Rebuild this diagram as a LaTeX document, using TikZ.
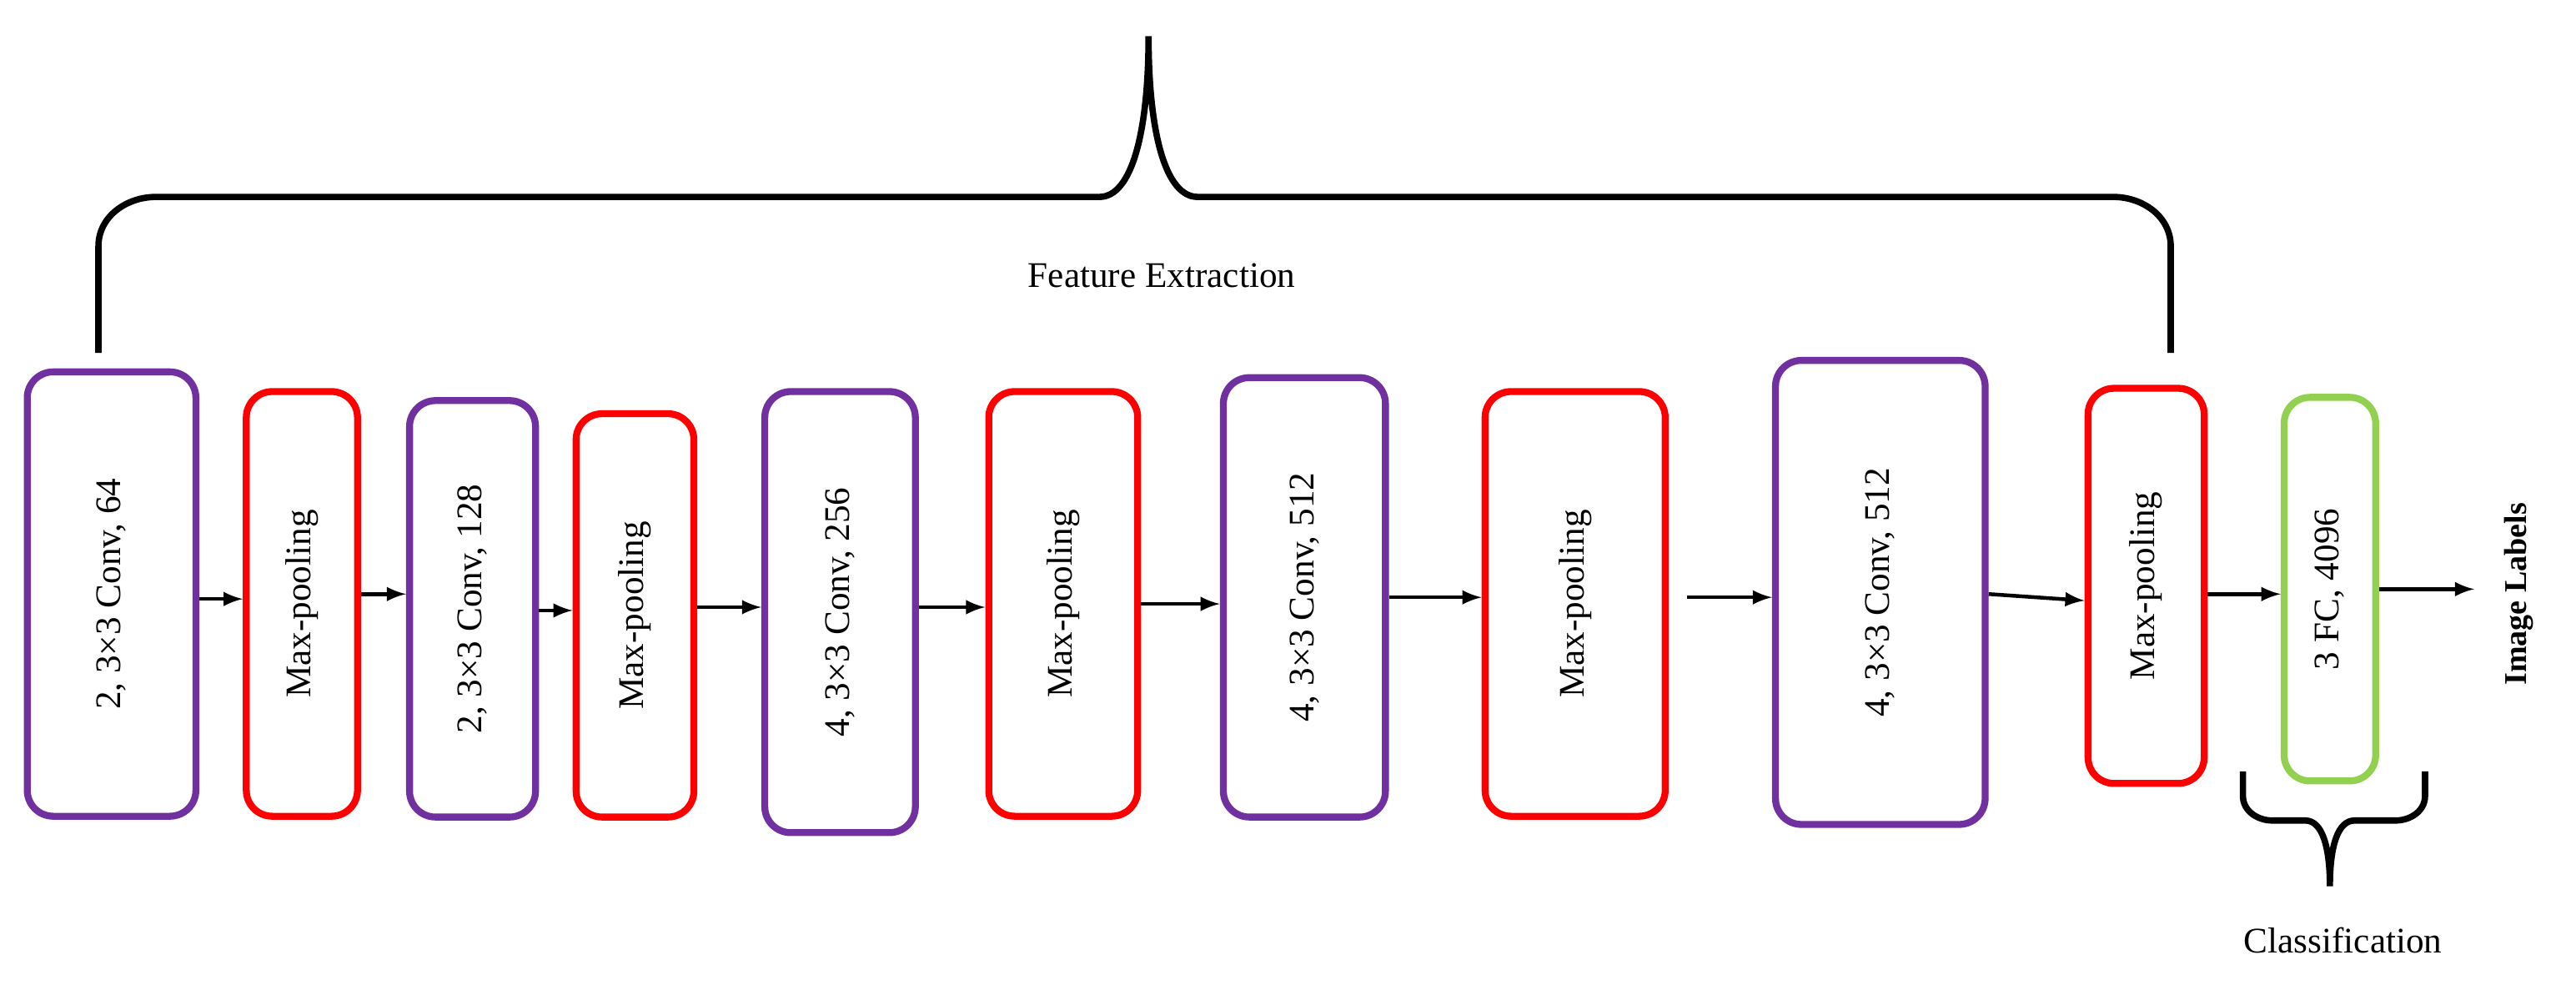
\documentclass[tikz,border=0pt]{standalone}
\usepackage{fontspec}
\setmainfont{Liberation Serif}
\begin{document}
\begin{tikzpicture}[x=0.02cm,y=-0.02cm,
 blk/.style={draw,line width=2.4pt,rounded corners=9pt,fill=white,inner sep=0pt},
 lb/.style={rotate=90,font=\fontsize{12.5}{14}\selectfont},
 ar/.style={-latex,line width=1.3pt},
 br/.style={line width=2.2pt}]
\useasboundingbox (0,0) rectangle (1570,600);
\definecolor{pur}{RGB}{112,48,160}
\definecolor{grn}{RGB}{146,208,80}
\tikzset{cv/.style={blk,draw=pur},mp/.style={blk,draw=red},fc/.style={blk,draw=grn}}
\newcommand\bx[6]{\node[#2,minimum width=#5*0.02cm-2.4pt,minimum height=#6*0.02cm-2.4pt] (#1) at (#3,#4) {};}
\bx{b1}{cv}{68}{362}{107}{275}
\bx{b2}{mp}{184}{368}{72}{263}
\bx{b3}{cv}{288}{371}{81}{258}
\bx{b4}{mp}{387}{375}{76}{250}
\bx{b5}{cv}{512}{373}{96}{273}
\bx{b6}{mp}{648}{368}{95}{263}
\bx{b7}{cv}{795}{364}{103}{272}
\bx{b8}{mp}{960}{368}{114}{263}
\bx{b9}{cv}{1146}{361}{132}{287}
\bx{b10}{mp}{1308}{357}{75}{245}
\bx{b11}{fc}{1420}{359}{60}{238}
\node[lb] at (b1) {2, 3×3 Conv, 64};
\node[lb] at (b2) {Max-pooling};
\node[lb] at (b3) {2, 3×3 Conv, 128};
\node[lb] at (b4) {Max-pooling};
\node[lb] at (b5) {4, 3×3 Conv, 256};
\node[lb] at (b6) {Max-pooling};
\node[lb] at (b7) {4, 3×3 Conv, 512};
\node[lb] at (b8) {Max-pooling};
\node[lb] at (b9) {4, 3×3 Conv, 512};
\node[lb] at (b10) {Max-pooling};
\node[lb] at (b11) {3 FC, 4096};
\node[lb,font=\fontsize{11}{13}\selectfont\bfseries] (il) at (1535,362) {Image Labels};
\coordinate (e) at (1508,359);
\draw[ar] (b1.east|-0,365) -- (b2.west|-0,365);
\draw[ar] (b2.east|-0,362) -- (b3.west|-0,362);
\draw[ar] (b3.east|-0,372) -- (b4.west|-0,372);
\draw[ar] (b4.east|-0,370) -- (b5.west|-0,370);
\draw[ar] (b5.east|-0,370) -- (b6.west|-0,370);
\draw[ar] (b6.east|-0,368) -- (b7.west|-0,368);
\draw[ar] (b7.east|-0,364) -- (b8.west|-0,364);
\draw[ar] (1028,364) -- (b9.west|-0,364);
\draw[ar] (b9.east|-0,362) -- (b10.west|-0,366);
\draw[ar] (b10.east|-0,362) -- (b11.west|-0,362);
\draw[ar] (b11.east|-0,359) -- (e);
\draw[br] (60,215) -- (60,150) to[out=90,in=180] (95,120) -- (670,120)
  .. controls (690,120) and (700,80) .. (700,22)
  .. controls (700,80) and (710,120) .. (730,120) -- (1288,120)
  to[out=0,in=90] (1323,150) -- (1323,215);
\node[font=\fontsize{12.5}{14}\selectfont] at (708,168) {Feature Extraction};
\draw[br] (1367,470) -- (1367,485) to[out=-90,in=180] (1385,500) -- (1405,500)
  .. controls (1415,500) and (1420,515) .. (1420,540)
  .. controls (1420,515) and (1425,500) .. (1435,500) -- (1460,500)
  to[out=0,in=-90] (1478,485) -- (1478,470);
\node[font=\fontsize{12.5}{14}\selectfont] at (1428,573) {Classification};
\end{tikzpicture}
\end{document}
